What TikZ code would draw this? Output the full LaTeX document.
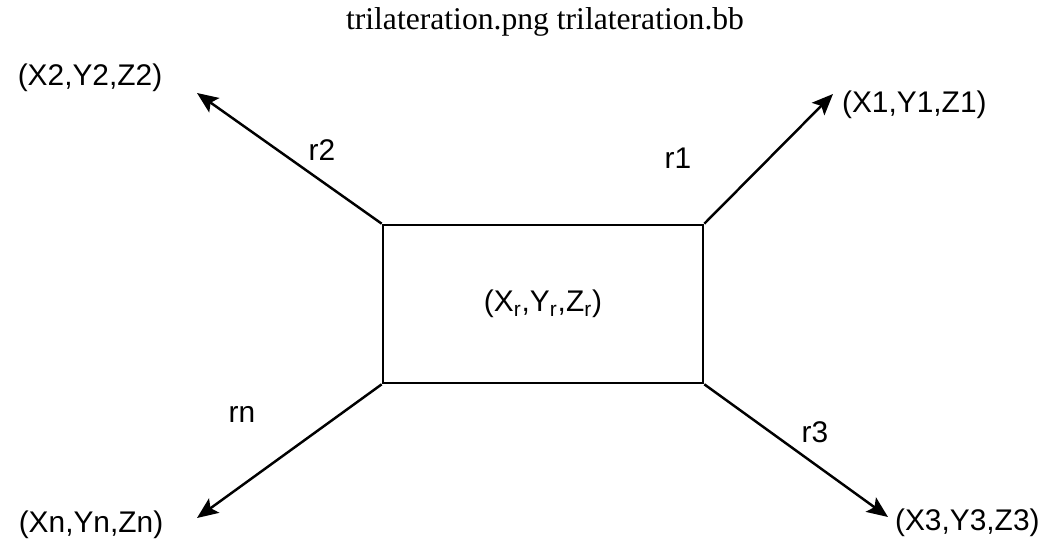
\documentclass[tikz,border=0pt]{standalone}
\usepackage{fontspec}
\setmainfont{Liberation Serif}
\newfontfamily\lblfont{Liberation Sans}
\usetikzlibrary{arrows.meta}

\begin{document}
\begin{tikzpicture}[>={Stealth[length=12pt,width=10pt,inset=2.5pt]},
  lbl/.style={font=\lblfont\fontsize{17}{20}\selectfont,inner sep=1pt},
  ray/.style={->,line width=1.4pt}]
  \useasboundingbox (0,0) rectangle (21.04,10.84);
  \node[font=\fontsize{18}{22}\selectfont] (ttl) at (10.9,10.4) {trilateration.png trilateration.bb};
  \node[draw,line width=1.5pt,minimum width=6.4cm,minimum height=3.16cm,lbl] (rx) at (10.86,4.76)
    {(X\textsubscript{r},Y\textsubscript{r},Z\textsubscript{r})};
  \coordinate (t1) at (16.66,8.96);
  \coordinate (t2) at (3.94,8.98);
  \coordinate (t3) at (17.76,0.5);
  \coordinate (tn) at (3.94,0.48);
  \node[lbl,anchor=west] (p1) at (16.8,8.74) {(X1,Y1,Z1)};
  \node[lbl] (p2) at (1.8,9.28) {(X2,Y2,Z2)};
  \node[lbl,anchor=west] (p3) at (17.86,0.38) {(X3,Y3,Z3)};
  \node[lbl] (pn) at (1.82,0.34) {(Xn,Yn,Zn)};
  \draw[ray] (rx.north east) -- (t1);
  \draw[ray] (rx.north west) -- (t2);
  \draw[ray] (rx.south east) -- (t3);
  \draw[ray] (rx.south west) -- (tn);
  \node[lbl] (d1) at (13.56,7.68) {r1};
  \node[lbl] (d2) at (6.44,7.84) {r2};
  \node[lbl] (d3) at (16.3,2.2) {r3};
  \node[lbl] (dn) at (4.84,2.56) {rn};
\end{tikzpicture}
\end{document}
